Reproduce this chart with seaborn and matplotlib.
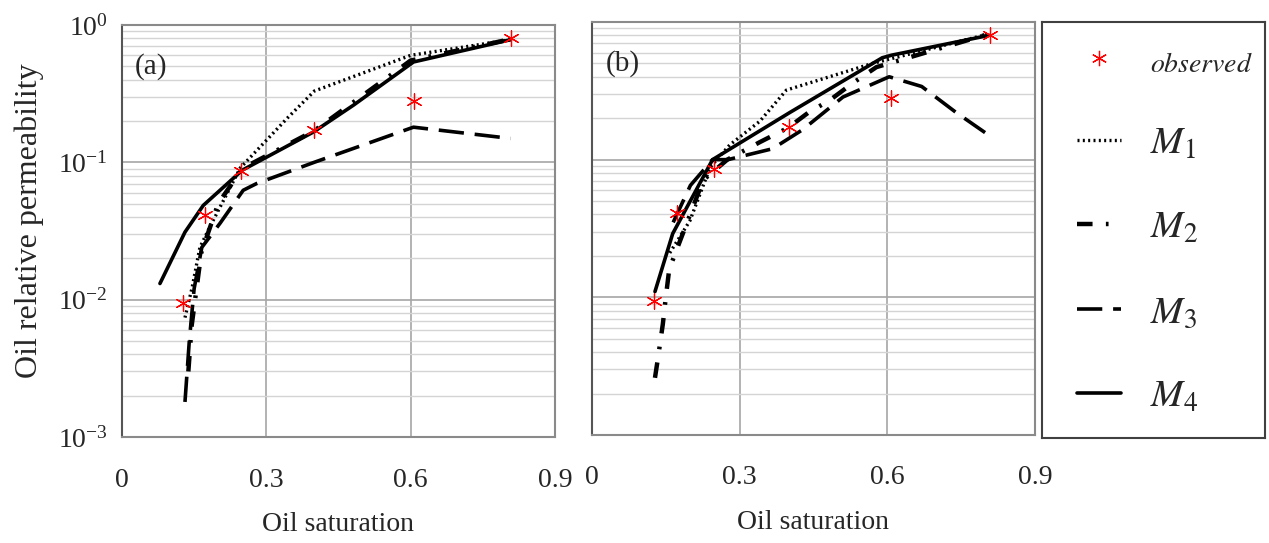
import seaborn as sns
import matplotlib.pyplot as plt
from matplotlib.lines import Line2D
from matplotlib.ticker import LogLocator, LogFormatterMathtext, NullFormatter

# observed data (same in both panels)
obs_x = [0.127, 0.172, 0.248, 0.400, 0.608, 0.808]
obs_y = [0.0094, 0.041, 0.086, 0.172, 0.28, 0.80]

# panel (a)
a_m1_x = [0.131, 0.146, 0.162, 0.183, 0.246, 0.294, 0.344, 0.400, 0.600, 0.808]
a_m1_y = [0.0074, 0.0123, 0.024, 0.034, 0.091, 0.137, 0.21, 0.33, 0.60, 0.78]
a_m2_x = [0.138, 0.145, 0.155, 0.165, 0.200, 0.250, 0.400, 0.600, 0.810]
a_m2_y = [0.003, 0.0065, 0.012, 0.022, 0.050, 0.090, 0.170, 0.55, 0.79]
a_m3_x = [0.131, 0.140, 0.150, 0.166, 0.204, 0.252, 0.280, 0.400, 0.606, 0.808]
a_m3_y = [0.0018, 0.005, 0.012, 0.024, 0.036, 0.0625, 0.070, 0.100, 0.180, 0.149]
a_m4_x = [0.079, 0.131, 0.169, 0.250, 0.398, 0.481, 0.606, 0.808]
a_m4_y = [0.0131, 0.031, 0.0485, 0.0875, 0.166, 0.26, 0.537, 0.78]

# panel (b)
b_m1_x = [0.158, 0.199, 0.240, 0.280, 0.341, 0.395, 0.570, 0.807]
b_m1_y = [0.021, 0.036, 0.088, 0.128, 0.19, 0.32, 0.50, 0.82]
b_m2_x = [0.128, 0.134, 0.144, 0.150, 0.157, 0.226, 0.275, 0.341, 0.398, 0.440, 0.483, 0.530, 0.578, 0.807]
b_m2_y = [0.0026, 0.0036, 0.0064, 0.010, 0.016, 0.071, 0.100, 0.134, 0.17, 0.22, 0.27, 0.36, 0.47, 0.82]
b_m3_x = [0.165, 0.200, 0.245, 0.276, 0.367, 0.428, 0.510, 0.604, 0.670, 0.740, 0.807]
b_m3_y = [0.035, 0.065, 0.100, 0.100, 0.120, 0.165, 0.285, 0.40, 0.34, 0.22, 0.15]
b_m4_x = [0.128, 0.164, 0.245, 0.402, 0.590, 0.610, 0.807]
b_m4_y = [0.011, 0.029, 0.100, 0.22, 0.55, 0.575, 0.80]

x_ticks = [0, 0.3, 0.6, 0.9]
x_ticklabels = ['0', '0.3', '0.6', '0.9']

sns.set_style("white")
plt.rcParams['font.family'] = ['Liberation Serif', 'DejaVu Serif']
plt.rcParams['mathtext.fontset'] = 'stix'

styles = {
    'M1': dict(linestyle=(0, (0.6, 1.0)), linewidth=2.4),
    'M2': dict(linestyle=(0, (3.5, 3.0, 0.6, 3.0)), linewidth=3.2),
    'M3': dict(linestyle=(0, (7.0, 3.0)), linewidth=2.6),
    'M4': dict(linestyle='-', linewidth=2.6),
}
ast = (6, 2, 0)

fig = plt.figure(figsize=(12.69, 5.43), dpi=100)
ax_a = fig.add_axes([0.0961, 0.1952, 0.3412, 0.759])
ax_b = fig.add_axes([0.4665, 0.1990, 0.3490, 0.7605])
ax_l = fig.add_axes([0.8211, 0.1934, 0.1757, 0.7661])

panels = [
    (ax_a, '(a)', [(a_m1_x, a_m1_y, 'M1'), (a_m2_x, a_m2_y, 'M2'), (a_m3_x, a_m3_y, 'M3'), (a_m4_x, a_m4_y, 'M4')]),
    (ax_b, '(b)', [(b_m1_x, b_m1_y, 'M1'), (b_m2_x, b_m2_y, 'M2'), (b_m3_x, b_m3_y, 'M3'), (b_m4_x, b_m4_y, 'M4')]),
]

for ax, tag, series in panels:
    ax.set_yscale('log')
    for xs, ys, name in series:
        sns.lineplot(x=xs, y=ys, ax=ax, color='black', sort=False, estimator=None, **styles[name])
    sns.scatterplot(x=obs_x, y=obs_y, ax=ax, marker=ast, color='red', s=120, linewidth=0.9, zorder=5)
    ax.set_xlim(0, 0.9)
    ax.set_ylim(1e-3, 1)
    ax.set_xticks(x_ticks)
    ax.set_xticklabels(x_ticklabels)
    ax.yaxis.set_major_locator(LogLocator(base=10, numticks=10))
    ax.yaxis.set_minor_locator(LogLocator(base=10, subs=range(2, 10), numticks=50))
    ax.yaxis.set_minor_formatter(NullFormatter())
    ax.grid(True, which='major', color='#a6a6a6', linewidth=1.2)
    ax.grid(True, which='minor', axis='y', color='#d4d4d4', linewidth=1.0)
    ax.set_axisbelow(True)
    for sp in ax.spines.values():
        sp.set_color('#8a8a8a')
        sp.set_linewidth(1.5)
    ax.spines['left'].set_color('#555555')
    ax.tick_params(axis='x', direction='out', length=8, color='#a6a6a6', labelsize=20, pad=14)
    ax.tick_params(axis='y', which='both', length=0, labelsize=20, pad=10)
    ax.set_xlabel('Oil saturation', fontsize=20, labelpad=14)
    ax.text(0.03, 0.9, tag, transform=ax.transAxes, fontsize=21, va='center')

ax_a.yaxis.set_major_formatter(LogFormatterMathtext())
ax_a.set_ylabel('Oil relative permeability', fontsize=23)
ax_a.yaxis.set_label_coords(-0.18, 0.525)
ax_b.set_yticklabels([])

# legend panel
ax_l.set_xticks([])
ax_l.set_yticks([])
for sp in ax_l.spines.values():
    sp.set_color('#404040')
    sp.set_linewidth(1.5)
handles = [Line2D([], [], marker=ast, color='red', linestyle='none', markersize=11, markeredgewidth=0.9)]
for name in ['M1', 'M2', 'M3', 'M4']:
    handles.append(Line2D([], [], color='black', **styles[name]))
labels = ['$\\it{observed}$', '$M_1$', '$M_2$', '$M_3$', '$M_4$']
leg = ax_l.legend(handles, labels, loc='upper left', bbox_to_anchor=(0.155, 0.945), frameon=False,
                  fontsize=28, handlelength=1.15, handletextpad=0.75, labelspacing=1.22,
                  borderpad=0, borderaxespad=0)
leg.get_texts()[0].set_fontsize(20)

fig.savefig('out.png', dpi=100)
